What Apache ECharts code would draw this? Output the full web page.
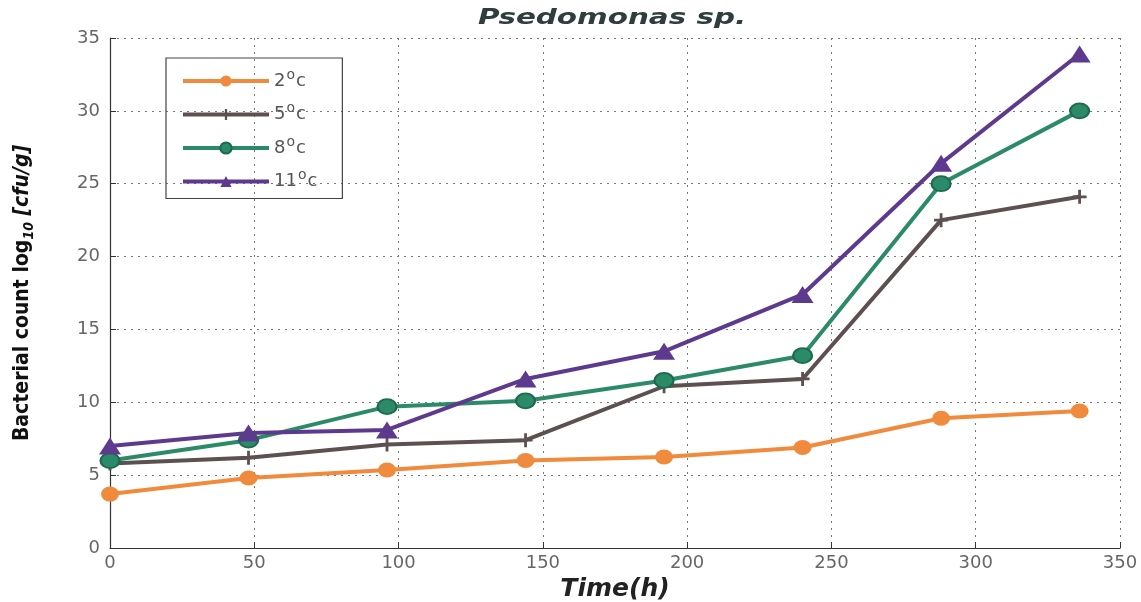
<!DOCTYPE html>
<html>
<head>
<meta charset="utf-8">
<script src="https://cdn.jsdelivr.net/npm/echarts@6/dist/echarts.min.js"></script>
<style>
html, body { margin: 0; padding: 0; background: #fff; }
#chart { width: 1141px; height: 602px; }
</style>
</head>
<body>
<div id="chart"></div>
<script>
// hours
var hours = [0, 48, 96, 144, 192, 240, 288, 336]
var names = ['2', '5', '8', '11']
var t2 = [3.7, 4.8, 5.35, 6.0, 6.25, 6.9, 8.9, 9.4]
var t5 = [5.8, 6.2, 7.1, 7.4, 11.1, 11.6, 22.5, 24.1]
var t8 = [6.0, 7.4, 9.7, 10.1, 11.5, 13.2, 25.0, 30.0]
var t11 = [7.0, 7.9, 8.1, 11.6, 13.5, 17.4, 26.4, 33.9]
var colors = ['#f08a3c', '#5d5050', '#2b8a68', '#5d3a8e']

var plusPath = 'path://M4,0 L6,0 L6,4 L10,4 L10,6 L6,6 L6,10 L4,10 L4,6 L0,6 L0,4 L4,4 Z'

function pairs(vals) {
    return hours.map(function (h, i) { return [h, vals[i]] })
}

function makeSeries(idx, vals, symbol, size, extra) {
    var s = {
        name: names[idx],
        type: 'line',
        data: pairs(vals),
        symbol: symbol,
        symbolSize: size,
        color: colors[idx],
        lineStyle: { width: 4, color: colors[idx] },
        itemStyle: { color: colors[idx] }
    }
    if (extra) {
        s.itemStyle = Object.assign(s.itemStyle, extra)
    }
    return s
}

var chart = echarts.init(document.getElementById('chart'))
chart.setOption({
    animation: false,
    // title drawn as graphic so it can be stretched wide like the scan
    graphic: [{
        type: 'text',
        x: 612,
        y: 8,
        scaleX: 1.4,
        style: {
            text: 'Psedomonas sp.',
            fontFamily: 'DejaVu Sans',
            fontStyle: 'italic',
            fontWeight: 'bold',
            fontSize: 21,
            fill: '#2f3d3d',
            align: 'center',
            verticalAlign: 'top'
        }
    }],
    grid: { left: 110, right: 21, top: 38, bottom: 54, outerBoundsMode: 'none', containLabel: false },
    legend: {
        orient: 'vertical',
        left: 166,
        top: 58,
        padding: [10, 25, 8, 15],
        itemGap: 11.5,
        itemWidth: 86,
        itemHeight: 14,
        borderColor: '#444',
        borderWidth: 1.2,
        borderRadius: 0,
        data: names,
        lineStyle: { width: 4 },
        formatter: function (n) { return n + '{sup|o}c' },
        textStyle: {
            fontFamily: 'DejaVu Sans',
            fontSize: 18,
            color: '#555',
            rich: {
                sup: { fontSize: 14, padding: [0, 1, 12, 1], color: '#555' }
            }
        }
    },
    xAxis: {
        type: 'value',
        min: 0,
        max: 350,
        interval: 50,
        name: 'Time(h)',
        nameLocation: 'middle',
        nameGap: 20,
        nameTextStyle: {
            fontFamily: 'DejaVu Sans',
            fontStyle: 'italic',
            fontWeight: 'bold',
            fontSize: 25,
            color: '#222'
        },
        axisLine: { lineStyle: { color: '#333', width: 1.2 } },
        axisTick: { inside: true, length: 6, lineStyle: { color: '#333' } },
        axisLabel: { fontFamily: 'DejaVu Sans', fontSize: 18, color: '#666', margin: 6 },
        splitLine: { show: true, lineStyle: { type: [2, 5], color: '#777', width: 1 } }
    },
    yAxis: {
        type: 'value',
        min: 0,
        max: 35,
        interval: 5,
        name: 'Bacterial count log{sub|10} {it|[cfu/g]}',
        nameLocation: 'middle',
        nameGap: 74,
        nameTextStyle: {
            fontFamily: 'DejaVu Sans Condensed',
            fontWeight: 'bold',
            fontSize: 21,
            color: '#111',
            rich: {
                sub: { fontFamily: 'DejaVu Sans Condensed', fontWeight: 'bold', fontStyle: 'italic', fontSize: 14, padding: [12, 0, 0, 0], color: '#111' },
                it: { fontFamily: 'DejaVu Sans Condensed', fontWeight: 'bold', fontStyle: 'italic', fontSize: 21, color: '#111' }
            }
        },
        axisLine: { show: true, lineStyle: { color: '#333', width: 1.2 } },
        axisTick: { show: true, inside: true, length: 6, lineStyle: { color: '#333' } },
        axisLabel: { fontFamily: 'DejaVu Sans', fontSize: 18, color: '#666', margin: 10 },
        splitLine: { show: true, lineStyle: { type: [2, 5], color: '#777', width: 1 } }
    },
    series: [
        makeSeries(0, t2, 'circle', [18, 15]),
        makeSeries(1, t5, plusPath, 14),
        makeSeries(2, t8, 'circle', [19, 15], { borderWidth: 2, borderColor: '#1e6a4e' }),
        makeSeries(3, t11, 'triangle', [22, 17])
    ]
})
</script>
</body>
</html>
